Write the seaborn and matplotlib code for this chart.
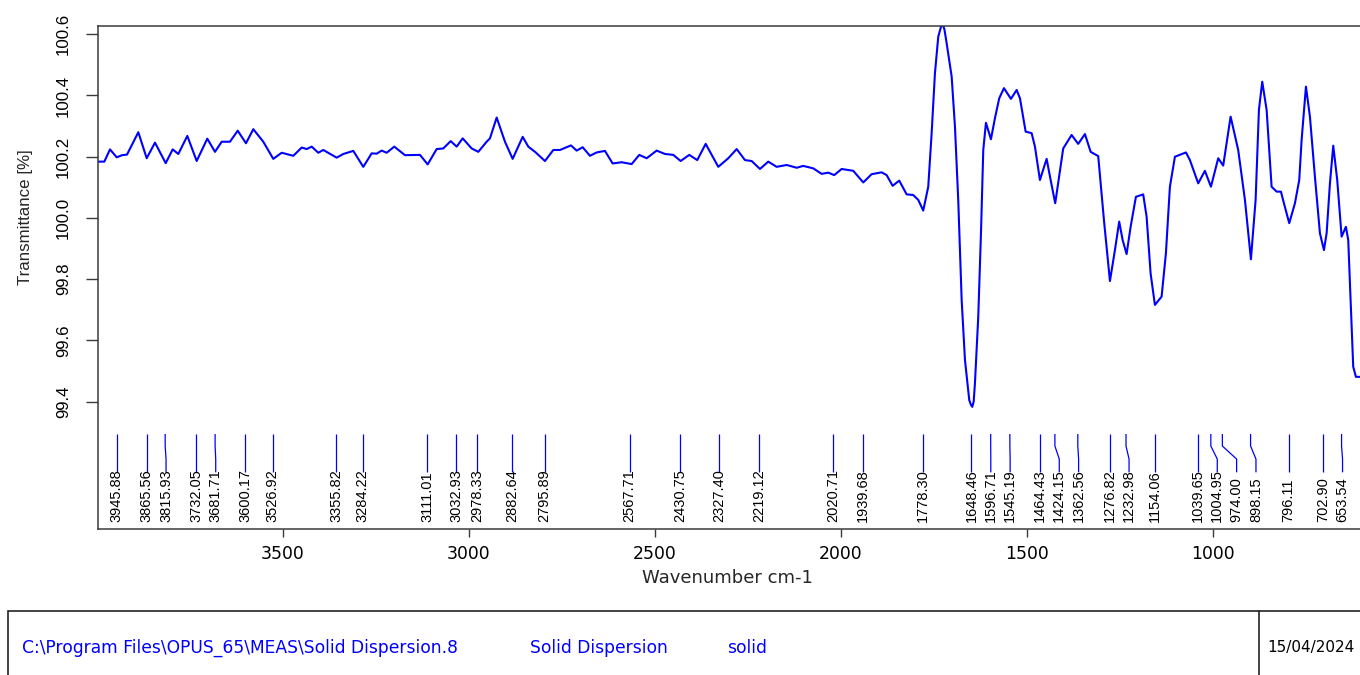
import numpy as np
import pandas as pd
import matplotlib
matplotlib.use("Agg")
import matplotlib.pyplot as plt
import matplotlib.transforms as mtransforms
from matplotlib.patches import Rectangle
from matplotlib.lines import Line2D
from matplotlib import font_manager
import seaborn as sns

# ---------------- data ----------------
wavenumber = [
    3996.5, 3979.5, 3964.2, 3946.2, 3932.0, 3918.5, 3888.1, 3865.6, 3843.3, 3814.5,
    3795.7, 3780.6, 3756.4, 3731.2, 3702.7, 3682.0, 3664.0, 3641.7, 3620.9, 3598.7,
    3579.0, 3552.2, 3525.3, 3502.7, 3471.5, 3448.9, 3435.5, 3422.0, 3404.3, 3390.9,
    3354.8, 3337.1, 3310.2, 3283.4, 3260.8, 3247.3, 3233.9, 3220.5, 3200.0, 3171.3,
    3130.9, 3110.3, 3086.1, 3068.3, 3048.4, 3032.3, 3016.2, 2992.0, 2974.2, 2951.7,
    2942.8, 2924.8, 2902.5, 2881.8, 2854.9, 2839.8, 2821.8, 2794.9, 2772.6, 2754.6,
    2725.1, 2709.7, 2693.6, 2674.0, 2656.0, 2633.7, 2613.0, 2588.8, 2561.9, 2541.4,
    2521.6, 2494.7, 2472.4, 2450.0, 2430.2, 2407.1, 2385.6, 2362.9, 2329.1, 2302.2,
    2279.6, 2257.3, 2239.3, 2217.0, 2194.7, 2172.1, 2145.2, 2118.3, 2100.6, 2073.7,
    2051.2, 2033.4, 2017.3, 1997.4, 1966.2, 1939.3, 1916.8, 1889.9, 1876.5, 1860.3,
    1842.6, 1822.7, 1805.0, 1791.5, 1778.1, 1764.6, 1755.5, 1746.6, 1737.7, 1731.0,
    1726.0, 1721.0, 1715.2, 1701.7, 1692.8, 1684.0, 1674.8, 1665.9, 1654.4, 1650.0,
    1646.3, 1642.5, 1639.1, 1630.2, 1622.9, 1616.7, 1609.5, 1596.1, 1585.3, 1573.8,
    1561.1, 1542.3, 1527.0, 1518.1, 1502.8, 1486.7, 1477.8, 1464.4, 1446.4, 1435.6,
    1423.3, 1401.8, 1379.2, 1361.5, 1343.4, 1328.1, 1307.7, 1292.3, 1276.2, 1262.8,
    1251.3, 1242.1, 1231.4, 1220.6, 1206.4, 1186.8, 1177.6, 1166.9, 1155.3, 1137.3,
    1125.7, 1115.0, 1101.5, 1071.9, 1061.2, 1038.9, 1020.9, 1004.7, 985.1, 971.7,
    951.8, 931.4, 913.3, 897.2, 884.6, 875.7, 866.8, 855.0, 841.6, 828.1,
    816.5, 808.5, 794.2, 778.9, 767.3, 760.9, 749.3, 738.6, 725.1, 711.7,
    700.9, 693.7, 684.8, 675.9, 665.2, 653.4, 641.9, 635.6, 629.2, 622.2,
    614.9, 604.2,
]
transmittance = [
    100.184, 100.184, 100.224, 100.198, 100.205, 100.207, 100.280, 100.195, 100.246, 100.179,
    100.224, 100.209, 100.268, 100.186, 100.259, 100.216, 100.249, 100.249, 100.285, 100.244,
    100.290, 100.249, 100.193, 100.213, 100.203, 100.230, 100.225, 100.233, 100.213, 100.222,
    100.197, 100.209, 100.219, 100.167, 100.211, 100.210, 100.220, 100.213, 100.233, 100.205,
    100.206, 100.175, 100.225, 100.227, 100.251, 100.233, 100.260, 100.227, 100.216, 100.249,
    100.260, 100.328, 100.249, 100.193, 100.265, 100.233, 100.216, 100.186, 100.222, 100.222,
    100.237, 100.220, 100.231, 100.203, 100.214, 100.219, 100.178, 100.182, 100.176, 100.206,
    100.195, 100.220, 100.209, 100.206, 100.186, 100.206, 100.189, 100.242, 100.167, 100.195,
    100.225, 100.189, 100.186, 100.160, 100.184, 100.167, 100.173, 100.164, 100.170, 100.162,
    100.144, 100.148, 100.140, 100.160, 100.154, 100.116, 100.143, 100.149, 100.140, 100.105,
    100.122, 100.077, 100.075, 100.059, 100.024, 100.102, 100.277, 100.473, 100.592, 100.622,
    100.635, 100.615, 100.571, 100.462, 100.298, 100.059, 99.732, 99.536, 99.405, 99.390,
    99.383, 99.400, 99.460, 99.677, 99.950, 100.222, 100.311, 100.257, 100.326, 100.391,
    100.424, 100.389, 100.418, 100.391, 100.282, 100.277, 100.233, 100.124, 100.193, 100.124,
    100.048, 100.227, 100.271, 100.242, 100.274, 100.216, 100.202, 99.993, 99.794, 99.895,
    99.988, 99.928, 99.882, 99.971, 100.069, 100.077, 100.004, 99.819, 99.716, 99.743,
    99.885, 100.102, 100.200, 100.214, 100.189, 100.113, 100.154, 100.102, 100.195, 100.171,
    100.331, 100.222, 100.059, 99.865, 100.059, 100.353, 100.445, 100.353, 100.102, 100.086,
    100.086, 100.048, 99.983, 100.048, 100.124, 100.255, 100.429, 100.331, 100.134, 99.950,
    99.895, 99.950, 100.113, 100.236, 100.124, 99.939, 99.971, 99.928, 99.732, 99.514,
    99.481, 99.481,
]
peak_positions = [
    3945.88, 3865.56, 3815.93, 3732.05, 3681.71, 3600.17, 3526.92, 3355.82, 3284.22,
    3111.01, 3032.93, 2978.33, 2882.64, 2795.89, 2567.71, 2430.75, 2327.40, 2219.12,
    2020.71, 1939.68, 1778.30, 1648.46, 1596.71, 1545.19, 1464.43, 1424.15, 1362.56,
    1276.82, 1232.98, 1154.06, 1039.65, 1004.95, 974.00, 898.15, 796.11, 702.90, 653.54,
]
x_ticks = [3500, 3000, 2500, 2000, 1500, 1000]
y_ticks = [99.4, 99.6, 99.8, 100.0, 100.2, 100.4, 100.6]
x_label = "Wavenumber cm-1"
y_label = "Transmittance [%]"
file_path = r"C:\Program Files\OPUS_65\MEAS\Solid Dispersion.8"
sample_name = "Solid Dispersion"
sample_form = "solid"
date_text = "15/04/2024"

# ---------------- style ----------------
sns.set_style("white")
plt.rcParams["font.family"] = ["DejaVu Sans"]
names = {f.name for f in font_manager.fontManager.ttflist}
arial_like = "Liberation Sans" if "Liberation Sans" in names else "DejaVu Sans"
narrow = "Liberation Sans Narrow" if "Liberation Sans Narrow" in names else arial_like

BLUE = "#0000ff"
AXC = "#3a3a3a"

W, H = 1360, 675
fig = plt.figure(figsize=(W / 100, H / 100), dpi=100)
ax = fig.add_axes([98 / W, 146 / H, 1267.2 / W, 503 / H])

df = pd.DataFrame({"wavenumber": wavenumber, "transmittance": transmittance})
sns.lineplot(data=df, x="wavenumber", y="transmittance", ax=ax, color=BLUE,
             linewidth=1.5, estimator=None, sort=False)

ax.set_xlim(3996.5, 590)
ax.set_ylim(98.984, 100.627)

ax.set_xticks(x_ticks)
ax.set_xticklabels([str(t) for t in x_ticks])
ax.set_yticks(y_ticks)
ax.set_yticklabels([f"{t:.1f}" for t in y_ticks])
ax.tick_params(axis="x", direction="out", length=5.8, width=1.0, color=AXC,
               pad=5.5, labelsize=12.4, labelcolor="black", bottom=True)
ax.tick_params(axis="y", direction="out", length=8.6, width=1.0, color=AXC,
               pad=11, labelsize=12.2, labelcolor="black", labelrotation=90, left=True)
for lbl in ax.get_yticklabels():
    lbl.set_fontfamily(arial_like)
    lbl.set_va("center")

for s in ["left", "bottom", "top"]:
    ax.spines[s].set_visible(True)
    ax.spines[s].set_color(AXC)
    ax.spines[s].set_linewidth(1.1)
ax.spines["right"].set_visible(False)

ax.set_xlabel(x_label, fontsize=13)
ax.xaxis.set_label_coords(0.497, -0.0974)
ax.xaxis.label.set_va("center")
ax.set_ylabel(y_label, fontsize=12.2, fontfamily=arial_like)
ax.yaxis.set_label_coords(-0.0575, 0.62)
ax.yaxis.label.set_va("center")

# ---------------- peak markers ----------------
trans = mtransforms.blended_transform_factory(ax.transData, ax.transAxes)
min_gap = 52.0
label_pos = []
prev = None
for p in peak_positions:
    lp = p if prev is None else min(p, prev - min_gap)
    label_pos.append(lp)
    prev = lp

for p, lp in zip(peak_positions, label_pos):
    ax.plot([p, p, lp, lp], [0.1889, 0.165, 0.139, 0.1127], transform=trans,
            color=BLUE, lw=0.9, clip_on=False, solid_capstyle="butt")
    ax.text(lp, 0.0145, f"{p:.2f}", transform=trans, rotation=90,
            ha="center", va="bottom", fontsize=10.5, family=narrow, color="black")

# ---------------- info box ----------------
fig.add_artist(Rectangle((8 / W, -0.2), 1.2, 0.2 + (1 - 610.7 / H),
                         transform=fig.transFigure, fill=False,
                         edgecolor="#222222", linewidth=1.2))
fig.add_artist(Line2D([1258.5 / W, 1258.5 / W], [-0.1, 1 - 610.7 / H],
                      transform=fig.transFigure, color="#222222", linewidth=1.2))
yc = 1 - 647.7 / H
fig.text(22 / W, yc, file_path, ha="left", va="center", color=BLUE, fontsize=12.3)
fig.text(530 / W, yc, sample_name, ha="left", va="center", color=BLUE, fontsize=12.3)
fig.text(727 / W, yc, sample_form, ha="left", va="center", color=BLUE, fontsize=12.3)
fig.text(1267 / W, yc, date_text, ha="left", va="center", color="black", fontsize=11)

fig.savefig("out.png", dpi=100)
